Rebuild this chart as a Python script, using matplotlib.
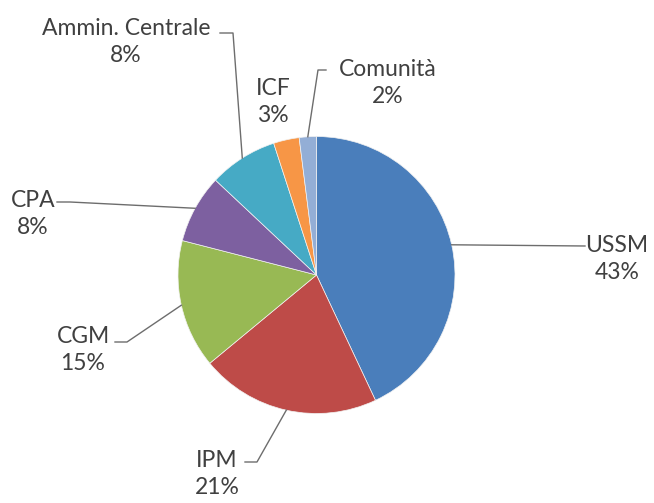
import matplotlib
matplotlib.use("Agg")
import matplotlib.pyplot as plt
import numpy as np

plt.rcParams["font.family"] = ["Lato", "DejaVu Sans"]

labels = ["USSM", "IPM", "CGM", "CPA", "Ammin. Centrale", "ICF", "Comunità"]
values = [43, 21, 15, 8, 8, 3, 2]
colors = ["#4A7EBB", "#BE4B48", "#98B954", "#7D60A0", "#46AAC5", "#F79646", "#93AED6"]

W, H = 654, 503
CX, CY, R = 316.5, 275, 138.5

# label text centres (image pixels, y down) and leader elbows
label_pos = {
    "USSM": (617, 259),
    "IPM": (217, 474),
    "CGM": (83, 350),
    "CPA": (33, 214),
    "Ammin. Centrale": (126, 42),
    "ICF": (273, 102),
    "Comunità": (388, 83),
}
leader_pts = {
    "USSM": [(585, 246)],
    "IPM": [(257, 462), (245, 462)],
    "CGM": [(127, 342), (115, 342)],
    "CPA": [(70, 202), (57, 202)],
    "Ammin. Centrale": [(233, 33), (220, 33)],
    "ICF": None,
    "Comunità": [(318, 70), (326, 70)],
}


def fy(y):
    return H - y


fig = plt.figure(figsize=(W / 100, H / 100), dpi=100)
ax = fig.add_axes([0, 0, 1, 1])

wedges, _ = ax.pie(
    values,
    colors=colors,
    startangle=90,
    counterclock=False,
    center=(CX, fy(CY)),
    radius=R,
    wedgeprops=dict(linewidth=0.5, edgecolor="#f2f2f2"),
    frame=True,
)
ax.set_xlim(0, W)
ax.set_ylim(0, H)
ax.set_aspect("equal")
ax.axis("off")

for w, name, val in zip(wedges, labels, values):
    mid = np.deg2rad((w.theta1 + w.theta2) / 2)
    ax_pt = (CX + R * np.cos(mid), fy(CY) + R * np.sin(mid))
    pts = leader_pts[name]
    if pts:
        xs = [ax_pt[0]] + [p[0] for p in pts]
        ys = [ax_pt[1]] + [fy(p[1]) for p in pts]
        ax.plot(xs, ys, color="#6d6d6d", linewidth=1.0)
    lx, ly = label_pos[name]
    ax.text(lx, fy(ly), f"{name}\n{val}%", ha="center", va="center",
            fontsize=16.5, color="#404040", linespacing=1.3)

fig.savefig("out.png", dpi=100)
